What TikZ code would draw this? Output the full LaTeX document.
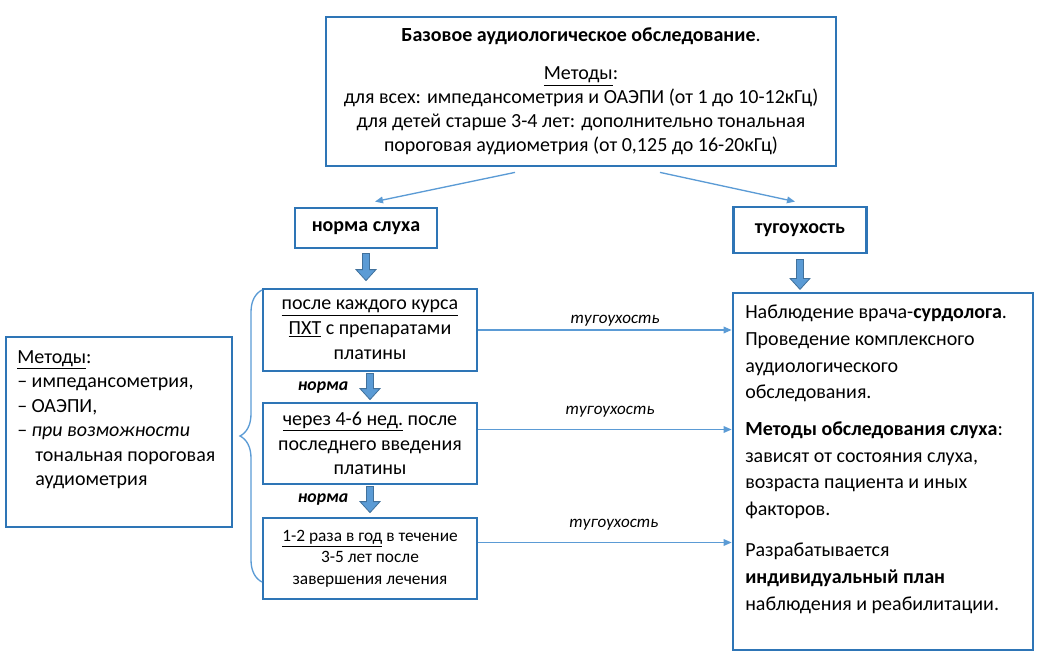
\documentclass[tikz,border=0pt]{standalone}
\usepackage{fontspec}
\setmainfont{Carlito}
\usetikzlibrary{arrows.meta,calc,decorations.pathreplacing}

\definecolor{boxblue}{RGB}{46,117,182}
\definecolor{lineblue}{RGB}{91,155,213}
\definecolor{arrowedge}{RGB}{65,113,156}

\def\pxl{0.75pt}

\tikzset{
  box/.style={draw=boxblue, line width=2.1pt, fill=white, inner sep=0pt, align=center},
  link/.style={draw=lineblue, line width=1pt, -{Triangle[length=6pt,width=5pt]}},
  fat/.style={fill=lineblue, draw=arrowedge, line width=0.6pt},
  branch/.style={font=\fontsize{12.8}{14}\selectfont\itshape, inner sep=1pt},
  okay/.style={font=\fontsize{13.3}{15}\selectfont\bfseries\itshape, inner sep=0pt},
}

\newcommand\fatarrow[2]{%
  \filldraw[fat] let \p1=#1, \p2=#2 in
    (\x1-2.6pt,\y1) -- (\x1-2.6pt,\y2+8.25pt) -- (\x1-7.5pt,\y2+8.25pt) --
    (\x1,\y2) -- (\x1+7.5pt,\y2+8.25pt) -- (\x1+2.6pt,\y2+8.25pt) --
    (\x1+2.6pt,\y1) -- cycle;}

\begin{document}
\begin{tikzpicture}[x=0.75pt,y=-0.75pt]

\path [use as bounding box] (0,0) rectangle (1046,663);

% BASE EXAM
\node [box, minimum width=510*\pxl, minimum height=149*\pxl, font=\fontsize{15}{18}\selectfont] (base) at (581,91.5)
  {\textbf{Базовое аудиологическое обследование}.\\[10.5pt]
   \underline{Методы}:\\
   для всех: импедансометрия и ОАЭПИ (от 1 до 10-12кГц)\\
   для детей старше 3-4 лет: дополнительно тональная\\
   пороговая аудиометрия (от 0,125 до 16-20кГц)};

% RESULT
\node [box, minimum width=142*\pxl, minimum height=40*\pxl, font=\fontsize{15}{18}\selectfont\bfseries] (norm) at (366,228) {норма слуха};
\node [box, minimum width=133*\pxl, minimum height=46*\pxl, font=\fontsize{15}{18}\selectfont\bfseries] (loss) at (800,230) {тугоухость};

\draw [link] ($(base.south)+(-66,5)$) -- ($(norm.north)+(9,-5)$);
\draw [link] ($(base.south)+(79,5)$) -- ($(loss.north)+(-5,-4)$);

% SCHEDULE
\node [box, minimum width=214*\pxl, minimum height=82*\pxl, font=\fontsize{15}{18.75}\selectfont] (b1) at (370,330)
  {\underline{после каждого курса}\\ \underline{ПХТ} с препаратами\\ платины};
\node [box, minimum width=214*\pxl, minimum height=81*\pxl, font=\fontsize{15}{18.5}\selectfont] (b2) at (370,443.5)
  {\underline{через 4-6 нед.} после\\ последнего введения\\ платины};
\node [box, minimum width=214*\pxl, minimum height=81*\pxl, font=\fontsize{13}{16}\selectfont] (b3) at (370,558.5)
  {\underline{1-2 раза в год} в течение\\ 3-5 лет после\\ завершения лечения};

\fatarrow{($(norm.south)+(0,4)$)}{($(b1.north)+(0,-7)$)}
\fatarrow{($(b1.south)+(0,1)$)}{($(b2.north)+(0,-2)$)}
\fatarrow{($(b2.south)+(0,1)$)}{($(b3.north)+(0,-4)$)}
\fatarrow{($(loss.south)+(0,5)$)}{($(loss.south)+(0,35)$)}

\node [okay] (ok1) at (323,388) {норма};
\node [okay] (ok2) at (323,500) {норма};

% METHODS
\node [box, minimum width=226*\pxl, minimum height=190*\pxl] (meth) at (119,432) {};
\node [anchor=north west, align=left, inner sep=0pt, font=\fontsize{15}{18.4}\selectfont] (methtext) at (17,350)
  {\underline{Методы}:\\
   – импедансометрия,\\
   – ОАЭПИ,\\
   – \textit{при возможности}\\
   \hspace*{13.5pt}тональная пороговая\\
   \hspace*{13.5pt}аудиометрия};

\coordinate (bracetop) at (262,290);
\coordinate (bracebot) at (262,582);
\draw [lineblue, line width=1pt, decorate, decoration={brace, amplitude=16.5pt}] (bracebot) -- (bracetop);

% FOLLOW-UP
\node [box, minimum width=300*\pxl, minimum height=357*\pxl] (care) at (883,471.5) {};
\node [anchor=north west, align=left, inner sep=0pt, font=\fontsize{15}{20}\selectfont] (caretext) at (745,305)
  {Наблюдение врача-\textbf{сурдолога}.\\
   Проведение комплексного\\
   аудиологического\\
   обследования.\\[7.5pt]
   \textbf{Методы обследования слуха}:\\
   зависят от состояния слуха,\\
   возраста пациента и иных\\
   факторов.\\[11pt]
   Разрабатывается\\
   \textbf{индивидуальный план}\\
   наблюдения и реабилитации.};

\draw [link] (b1.east) -- (b1.east -| care.west) node [branch, above=1pt, pos=0.54] {тугоухость};
\draw [link] ([yshift=10.5pt]b2.east) -- ([yshift=10.5pt]b2.east -| care.west) node [branch, above=8pt, pos=0.52] {тугоухость};
\draw [link] ([yshift=12pt]b3.east) -- ([yshift=12pt]b3.east -| care.west) node [branch, above=8pt, pos=0.535] {тугоухость};

\end{tikzpicture}
\end{document}
